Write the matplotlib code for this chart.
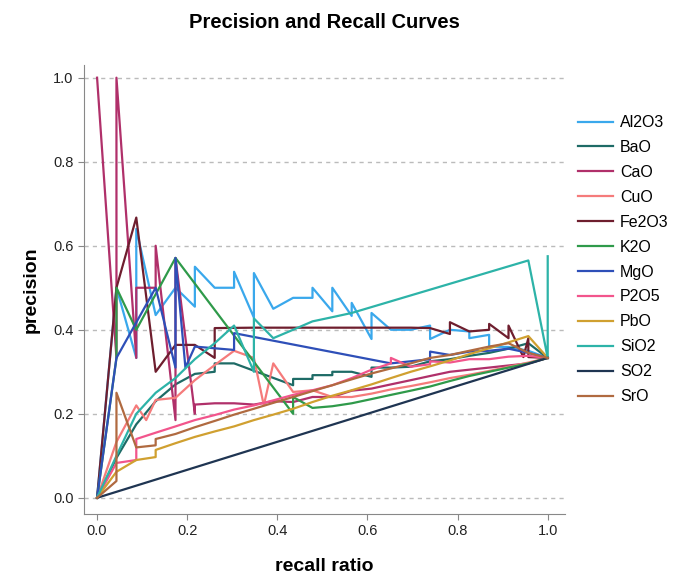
import matplotlib
matplotlib.use("Agg")
import matplotlib.pyplot as plt

# recall / precision values, one pair of lists per oxide
al2o3_x = [0, 0.043, 0.087, 0.087, 0.130, 0.174, 0.217, 0.217, 0.261, 0.304, 0.304, 0.348, 0.348, 0.391,
           0.435, 0.478, 0.478, 0.522, 0.522, 0.565, 0.565, 0.609, 0.609, 0.652, 0.696, 0.739, 0.739,
           0.783, 0.826, 0.826, 0.870, 0.870, 0.913, 0.957, 1.0]
al2o3_y = [0, 0.500, 0.333, 0.640, 0.435, 0.500, 0.455, 0.550, 0.500, 0.500, 0.538, 0.429, 0.535, 0.450,
           0.476, 0.476, 0.500, 0.444, 0.500, 0.433, 0.464, 0.378, 0.440, 0.400, 0.400, 0.410, 0.378,
           0.400, 0.396, 0.380, 0.388, 0.360, 0.359, 0.350, 0.333]

bao_x = [0, 0.043, 0.087, 0.130, 0.174, 0.217, 0.261, 0.261, 0.304, 0.435, 0.435, 0.478, 0.478, 0.522,
         0.522, 0.565, 0.609, 0.609, 0.652, 0.696, 0.739, 0.783, 0.826, 0.870, 0.913, 0.957, 1.0]
bao_y = [0, 0.095, 0.175, 0.230, 0.270, 0.295, 0.300, 0.320, 0.320, 0.268, 0.283, 0.283, 0.292, 0.292,
         0.300, 0.300, 0.288, 0.310, 0.310, 0.312, 0.325, 0.330, 0.338, 0.345, 0.355, 0.368, 0.333]

cao_x = [0, 0.043, 0.043, 0.087, 0.087, 0.130, 0.130, 0.174, 0.174, 0.217, 0.217, 0.261, 0.304, 0.348,
         0.391, 0.435, 0.478, 0.522, 0.565, 0.609, 0.652, 0.696, 0.739, 0.783, 0.826, 0.870, 0.913,
         0.957, 1.0]
cao_y = [1.0, 0.333, 1.0, 0.333, 0.500, 0.500, 0.600, 0.185, 0.571, 0.200, 0.222, 0.225, 0.225, 0.222,
         0.230, 0.228, 0.240, 0.240, 0.255, 0.260, 0.270, 0.280, 0.290, 0.300, 0.305, 0.310, 0.315,
         0.320, 0.333]

cuo_x = [0, 0.043, 0.087, 0.109, 0.130, 0.174, 0.217, 0.261, 0.304, 0.348, 0.370, 0.391, 0.435, 0.478,
         0.522, 0.565, 0.609, 0.652, 0.696, 0.739, 0.783, 0.826, 0.870, 0.913, 0.957, 1.0]
cuo_y = [0, 0.133, 0.220, 0.185, 0.233, 0.238, 0.280, 0.316, 0.350, 0.333, 0.220, 0.320, 0.252, 0.256,
         0.240, 0.240, 0.248, 0.258, 0.266, 0.275, 0.285, 0.293, 0.302, 0.312, 0.322, 0.333]

fe2o3_x = [0, 0.043, 0.087, 0.130, 0.174, 0.217, 0.261, 0.261, 0.348, 0.435, 0.522, 0.609, 0.696, 0.739,
           0.783, 0.783, 0.826, 0.870, 0.870, 0.913, 0.913, 0.946, 0.957, 0.957, 1.0]
fe2o3_y = [0, 0.500, 0.667, 0.300, 0.364, 0.364, 0.333, 0.404, 0.405, 0.405, 0.405, 0.405, 0.405, 0.404,
           0.390, 0.418, 0.396, 0.400, 0.414, 0.380, 0.410, 0.335, 0.380, 0.335, 0.333]

k2o_x = [0, 0.043, 0.043, 0.087, 0.174, 0.435, 0.435, 0.478, 0.522, 0.565, 0.609, 0.652, 0.696, 0.739,
         0.783, 0.826, 0.870, 0.913, 0.957, 1.0]
k2o_y = [0, 0.333, 0.500, 0.400, 0.571, 0.200, 0.240, 0.214, 0.218, 0.225, 0.235, 0.245, 0.255, 0.265,
         0.278, 0.290, 0.300, 0.310, 0.320, 0.333]

mgo_x = [0, 0.043, 0.130, 0.174, 0.174, 0.196, 0.217, 0.304, 0.304, 0.652, 0.696, 0.739, 0.739, 0.783,
         0.826, 0.870, 0.913, 0.957, 1.0]
mgo_y = [0, 0.333, 0.500, 0.310, 0.571, 0.310, 0.360, 0.352, 0.392, 0.320, 0.325, 0.330, 0.348, 0.340,
         0.348, 0.350, 0.355, 0.345, 0.333]

p2o5_x = [0, 0.043, 0.087, 0.087, 0.130, 0.174, 0.217, 0.261, 0.304, 0.348, 0.391, 0.435, 0.478, 0.522,
          0.565, 0.609, 0.652, 0.652, 0.696, 0.739, 0.739, 0.783, 0.826, 0.870, 0.913, 0.957, 1.0]
p2o5_y = [0, 0.083, 0.090, 0.140, 0.155, 0.170, 0.185, 0.197, 0.210, 0.220, 0.232, 0.245, 0.256, 0.268,
          0.285, 0.305, 0.320, 0.333, 0.312, 0.318, 0.325, 0.322, 0.330, 0.330, 0.336, 0.338, 0.333]

pbo_x = [0, 0.043, 0.087, 0.130, 0.130, 0.174, 0.217, 0.261, 0.304, 0.348, 0.391, 0.435, 0.478, 0.522,
         0.565, 0.609, 0.652, 0.696, 0.739, 0.783, 0.826, 0.870, 0.913, 0.957, 1.0]
pbo_y = [0, 0.062, 0.090, 0.097, 0.114, 0.130, 0.145, 0.158, 0.170, 0.185, 0.198, 0.212, 0.228, 0.243,
         0.256, 0.270, 0.285, 0.300, 0.313, 0.327, 0.342, 0.356, 0.370, 0.385, 0.333]

sio2_x = [0, 0.043, 0.087, 0.130, 0.174, 0.217, 0.261, 0.304, 0.348, 0.348, 0.391, 0.435, 0.478, 0.522,
          0.565, 0.957, 1.0, 1.0]
sio2_y = [0, 0.100, 0.200, 0.250, 0.285, 0.330, 0.368, 0.410, 0.300, 0.427, 0.380, 0.400, 0.420, 0.430,
          0.440, 0.565, 0.333, 0.575]

so2_x = [0, 0.261, 0.522, 0.783, 1.0]
so2_y = [0, 0.087, 0.174, 0.261, 0.333]

sro_x = [0, 0.043, 0.043, 0.087, 0.130, 0.130, 0.174, 0.217, 0.261, 0.304, 0.348, 0.391, 0.435, 0.478,
         0.522, 0.565, 0.609, 0.652, 0.696, 0.739, 0.783, 0.826, 0.870, 0.913, 0.957, 1.0]
sro_y = [0, 0.040, 0.250, 0.120, 0.125, 0.140, 0.152, 0.168, 0.183, 0.198, 0.212, 0.226, 0.240, 0.254,
         0.268, 0.282, 0.296, 0.308, 0.320, 0.333, 0.340, 0.350, 0.360, 0.368, 0.345, 0.333]

names = ["Al2O3", "BaO", "CaO", "CuO", "Fe2O3", "K2O", "MgO", "P2O5", "PbO", "SiO2", "SO2", "SrO"]
xs = [al2o3_x, bao_x, cao_x, cuo_x, fe2o3_x, k2o_x, mgo_x, p2o5_x, pbo_x, sio2_x, so2_x, sro_x]
ys = [al2o3_y, bao_y, cao_y, cuo_y, fe2o3_y, k2o_y, mgo_y, p2o5_y, pbo_y, sio2_y, so2_y, sro_y]
colors = ["#3aa8ec", "#1e6b66", "#b0306a", "#f57b7b", "#6e1e2e", "#2f9a4a",
          "#2e4fb8", "#f2558c", "#d0a030", "#2db3a8", "#1f3552", "#b06a40"]

plt.rcParams["font.family"] = ["Liberation Sans", "DejaVu Sans"]

fig = plt.figure(figsize=(6.83, 5.76), dpi=100)
ax = fig.add_axes([0.123, 0.108, 0.704, 0.779])

for name, x, y, c in zip(names, xs, ys, colors):
  ax.plot(x, y, color=c, lw=1.6, label=name)

ax.set_xlim(-0.029, 1.038)
ax.set_ylim(-0.038, 1.03)
ax.set_xticks([0, 0.2, 0.4, 0.6, 0.8, 1.0])
ax.set_yticks([0, 0.2, 0.4, 0.6, 0.8, 1.0])
ax.set_xticklabels(["0.0", "0.2", "0.4", "0.6", "0.8", "1.0"])
ax.set_yticklabels(["0.0", "0.2", "0.4", "0.6", "0.8", "1.0"])
ax.tick_params(labelsize=10.5, colors="#888888", labelcolor="#222222", length=4)
ax.yaxis.grid(True, ls=(0, (3, 3)), color="#bbbbbb", lw=1)
ax.set_axisbelow(True)
for s in ["top", "right"]:
  ax.spines[s].set_visible(False)
for s in ["left", "bottom"]:
  ax.spines[s].set_color("#888888")

ax.set_xlabel("recall ratio", fontsize=14, fontweight="bold", labelpad=14)
ax.set_ylabel("precision", fontsize=14, fontweight="bold", labelpad=10)
ax.set_title("Precision and Recall Curves", fontsize=14.5, fontweight="bold", pad=27)

fig.legend(loc="upper left", bbox_to_anchor=(0.825, 0.825), frameon=False,
           fontsize=11.5, handlelength=2.2, labelspacing=0.62, handletextpad=0.45)

fig.savefig("out.png", dpi=100)
